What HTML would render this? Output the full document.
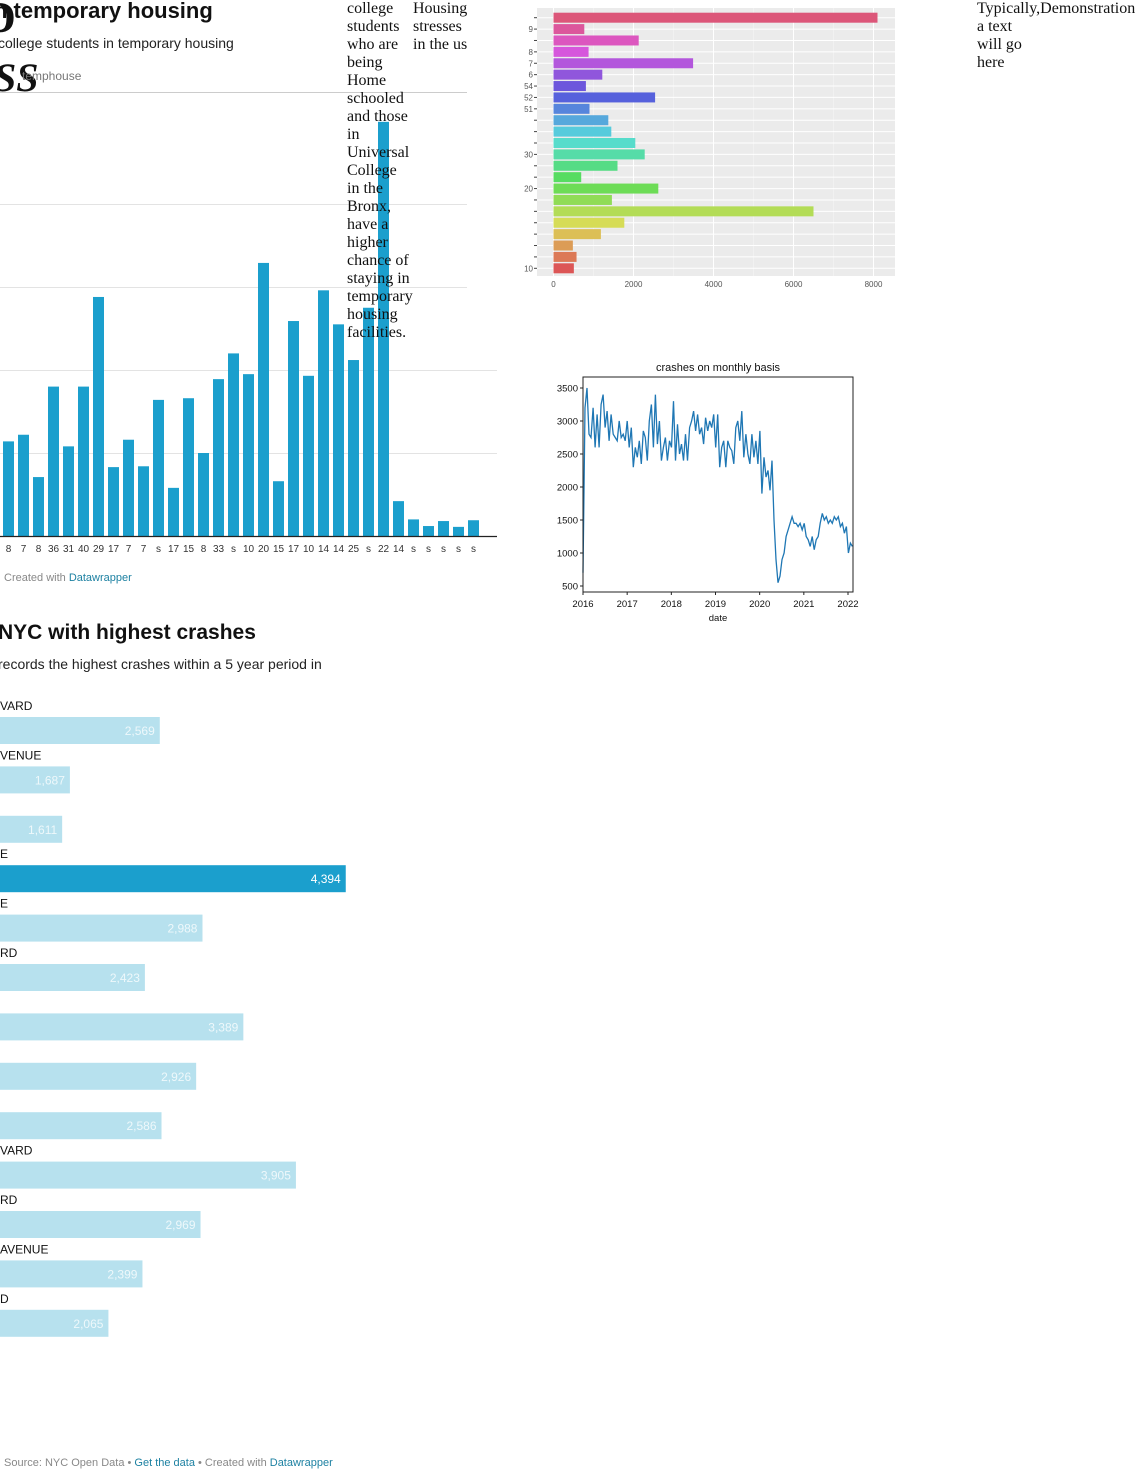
<!DOCTYPE html>
<html><head><meta charset="utf-8">
<style>
html,body{margin:0;padding:0;background:#fff;width:1135px;height:1474px;overflow:hidden;position:relative;font-family:"Liberation Sans",sans-serif;}
.abs{position:absolute;white-space:nowrap;}
.serif{font-family:"Liberation Serif",serif;font-size:16px;line-height:18px;color:#111;white-space:normal;}
svg{position:absolute;left:0;top:0;}
a{color:#1d81a2;text-decoration:none;}
</style></head><body>
<svg id="chart" width="1135" height="1474"></svg>

<div class="abs" style="left:-16px;top:-8px;font-family:'Liberation Serif',serif;font-size:44px;font-weight:bold;color:#111;">D</div>
<div class="abs" style="left:-6px;top:54px;font-family:'Liberation Serif',serif;font-size:40px;font-weight:bold;font-style:italic;color:#111;">SS</div>
<div class="abs" style="left:-6px;top:-2px;font-size:22px;font-weight:bold;color:#111;">n temporary housing</div>
<div class="abs" style="left:-2px;top:35px;font-size:14px;color:#222;">college students in temporary housing</div>
<div class="abs" style="left:22px;top:69px;font-size:12px;color:#777;">temphouse</div>
<div class="abs serif" style="left:347px;top:0px;width:66px;">college students who are being Home schooled and those in Universal College in the Bronx, have a higher chance of staying in temporary housing facilities.</div>
<div class="abs serif" style="left:413px;top:0px;width:60px;">Housing stresses in the us</div>
<div class="abs serif" style="left:977px;top:0px;width:60px;">Typically,Demonstration a text will go here</div>
<div class="abs" style="left:4px;top:572px;font-size:11px;color:#888;">Created with <a href="#">Datawrapper</a></div>

<div class="abs" style="left:-2px;top:621px;font-size:21px;font-weight:bold;color:#111;">NYC with highest crashes</div>
<div class="abs" style="left:-2px;top:656px;font-size:14px;color:#222;">records the highest crashes within a 5 year period in</div>
<div class="abs" style="left:4px;top:1457px;font-size:11px;color:#888;">Source: NYC Open Data • <a href="#">Get the data</a> • Created with <a href="#">Datawrapper</a></div>

<script>
// ---- Chart 1: vertical bars (temporary housing)
const vbLabels = ["8","7","8","36","31","40","29","17","7","7","s","17","15","8","33","s","10","20","15","17","10","14","14","25","s","22","14","s","s","s","s","s"];
const vbValues = [114,122,71,180,108,180,288,83,116,84,164,58,166,100,189,220,195,329,66,259,193,296,255,212,275,499,42,20,12,18,11,19];
const vbGrid = [100,200,300,400];

// ---- Chart 2: colored horizontal bars (ggplot)
const hbLabels = ["","9","","8","7","6","54","52","51","","","","30","","","20","","","","","","","10"];
const hbValues = [8100,770,2130,877,3490,1220,810,2540,900,1370,1445,2045,2280,1600,693,2620,1460,6500,1770,1185,484,576,509];
const hbTicks = [0,2000,4000,6000,8000];

// ---- Chart 3: crashes line
const lnYears = [2016,2017,2018,2019,2020,2021,2022];
const lnYTicks = [500,1000,1500,2000,2500,3000,3500];
const lnValues = [700,3200,3500,2800,2750,3200,2600,3100,2600,3250,3400,2900,3150,2700,3100,2800,2750,2700,3000,2750,2800,2700,3000,2600,2900,
2300,2600,2450,2700,2350,2850,2750,2400,3000,3250,2600,3400,2650,3000,2400,2600,2750,2400,2700,2600,3300,2400,2950,2500,
2650,2400,2800,2400,2900,3000,3150,2850,3100,2800,2900,2650,3050,2850,3000,2900,3100,2600,3100,2300,
2600,2700,2300,2700,2600,2550,2350,2900,3000,2700,3150,2450,2800,2500,2350,2800,2450,2700,2350,2850,
1900,2450,2150,2250,1950,2400,1500,900,550,650,900,1000,1250,1350,1450,1550,1450,1450,1400,1450,1350,1450,1250,
1200,1100,1250,1050,1200,1250,1450,1600,1500,1550,1450,1500,1450,1550,1500,1550,1400,1450,1300,1400,1000,1150,1100];

// ---- Chart 4: streets with highest crashes
const stLabels = ["VARD","VENUE","","E","E","RD","","","","VARD","RD","AVENUE","D"];
const stValues = [2569,1687,1611,4394,2988,2423,3389,2926,2586,3905,2969,2399,2065];
const stHighlight = [false,false,false,true,false,false,false,false,false,false,false,false,false];

const NS="http://www.w3.org/2000/svg";
const svg=document.getElementById('chart');
function mk(tag,attrs,parent){const e=document.createElementNS(NS,tag);for(const k in attrs)e.setAttribute(k,attrs[k]);(parent||svg).appendChild(e);return e;}
function txt(s,attrs,parent){const e=mk('text',attrs,parent);e.textContent=s;return e;}

// Chart 1
(function(){
  const g=mk('g',{});
  
  
  const y=v=>536-v*0.83;
  const x=i=>3+i*15;
  const hdr=mk('line',{x1:0,x2:467,y1:92.5,y2:92.5,stroke:'#ccc','stroke-width':1},g);
  
  
  vbGrid.forEach(v=>{const l=mk('line',{x1:0,x2:v>=300?467:497,y1:y(v)+0.5,y2:y(v)+0.5,stroke:'#e3e3e3','stroke-width':1},g);
    
    });
  vbValues.forEach((v,i)=>{const r=mk('rect',{x:x(i),y:y(v),width:11,height:536-y(v),fill:'#1b9fcd'},g);
    
    
    const t=txt(vbLabels[i],{x:x(i)+5.5,y:552,'font-size':10,fill:'#333','text-anchor':'middle'},g);
    
    });
  const ax=mk('line',{x1:0,x2:497,y1:536.5,y2:536.5,stroke:'#222','stroke-width':1.3},g);
  
  
})();

// Chart 2
(function(){
  const g=mk('g',{});
  
  
  const x=v=>553.5+v*0.04;
  const n=hbValues.length, top=12, step=(274-12)/n;
  const bg=mk('rect',{x:537,y:8,width:358,height:268,fill:'#ebebeb'},g);
  
  
  for(let v=1000;v<=9000;v+=2000){if(x(v)<895){const l=mk('line',{x1:x(v),x2:x(v),y1:8,y2:276,stroke:'#f5f5f5','stroke-width':0.6},g);
    
    }}
  hbTicks.forEach(v=>{const l=mk('line',{x1:x(v),x2:x(v),y1:8,y2:276,stroke:'#fff','stroke-width':1},g);
    
    
    const t=txt(String(v),{x:x(v),y:287,'font-size':8,fill:'#555','text-anchor':'middle'},g);
    
    });
  hbValues.forEach((v,i)=>{const cy=top+step*(i+0.5);
    const l=mk('line',{x1:537,x2:895,y1:cy,y2:cy,stroke:'#fff','stroke-width':1},g);
    
    
    const hue=(360*(n-1-i)/n)%360;
    const r=mk('rect',{x:x(0),y:cy-5,width:x(v)-x(0),height:10,fill:`hsl(${hue},66%,60%)`},g);
    
    
    const tk=mk('line',{x1:534,x2:537,y1:cy,y2:cy,stroke:'#444','stroke-width':1},g);
    
    
    if(hbLabels[i]){const t=txt(hbLabels[i],{x:533,y:cy+3,'font-size':8,fill:'#555','text-anchor':'end'},g);
      
      }});
})();

// Chart 3
(function(){
  const g=mk('g',{});
  
  
  const X0=583,X1=853,Y0=377,Y1=592;
  const x=yr=>583+(yr-2016)*(848-583)/6;
  const y=v=>388+(3500-v)*(586-388)/3000;
  const t=txt('crashes on monthly basis',{x:718,y:371,'font-size':11,fill:'#111','text-anchor':'middle'},g);
  
  
  const n=lnValues.length;
  const pts=lnValues.map((v,i)=>x(2016+6.1*i/(n-1)).toFixed(1)+','+y(v).toFixed(1)).join(' ');
  const pl=mk('polyline',{points:pts,fill:'none',stroke:'#1f77b4','stroke-width':1.3},g);
  
  
  const box=mk('rect',{x:X0,y:Y0,width:X1-X0,height:Y1-Y0,fill:'none',stroke:'#222','stroke-width':1},g);
  
  
  lnYTicks.forEach(v=>{const l=mk('line',{x1:X0-3,x2:X0,y1:y(v),y2:y(v),stroke:'#222'},g);
    
    
    const tt=txt(String(v),{x:X0-5,y:y(v)+3.5,'font-size':9.5,fill:'#111','text-anchor':'end'},g);
    
    });
  lnYears.forEach(yr=>{const l=mk('line',{x1:x(yr),x2:x(yr),y1:Y1,y2:Y1+3,stroke:'#222'},g);
    
    
    const tt=txt(String(yr),{x:x(yr),y:Y1+15,'font-size':9.5,fill:'#111','text-anchor':'middle'},g);
    
    });
  const xl=txt('date',{x:718,y:621,'font-size':9.5,fill:'#111','text-anchor':'middle'},g);
  
  
})();

// Chart 4
(function(){
  const g=mk('g',{});
  
  
  const x=v=>-102+v*0.1019;
  stValues.forEach((v,i)=>{const top=717+i*49.4;
    if(stLabels[i]){const l=txt(stLabels[i],{x:0,y:top-7,'font-size':12,fill:'#111'},g);
      
      }
    const r=mk('rect',{x:0,y:top,width:x(v),height:27,fill:stHighlight[i]?'#1b9fcd':'#b7e1ee'},g);
    
    
    const t=txt(v.toLocaleString('en-US'),{x:x(v)-5,y:top+18,'font-size':12,fill:stHighlight[i]?'#fff':'#eef8fb','text-anchor':'end'},g);
    
    });
})();
</script>
</body></html>
